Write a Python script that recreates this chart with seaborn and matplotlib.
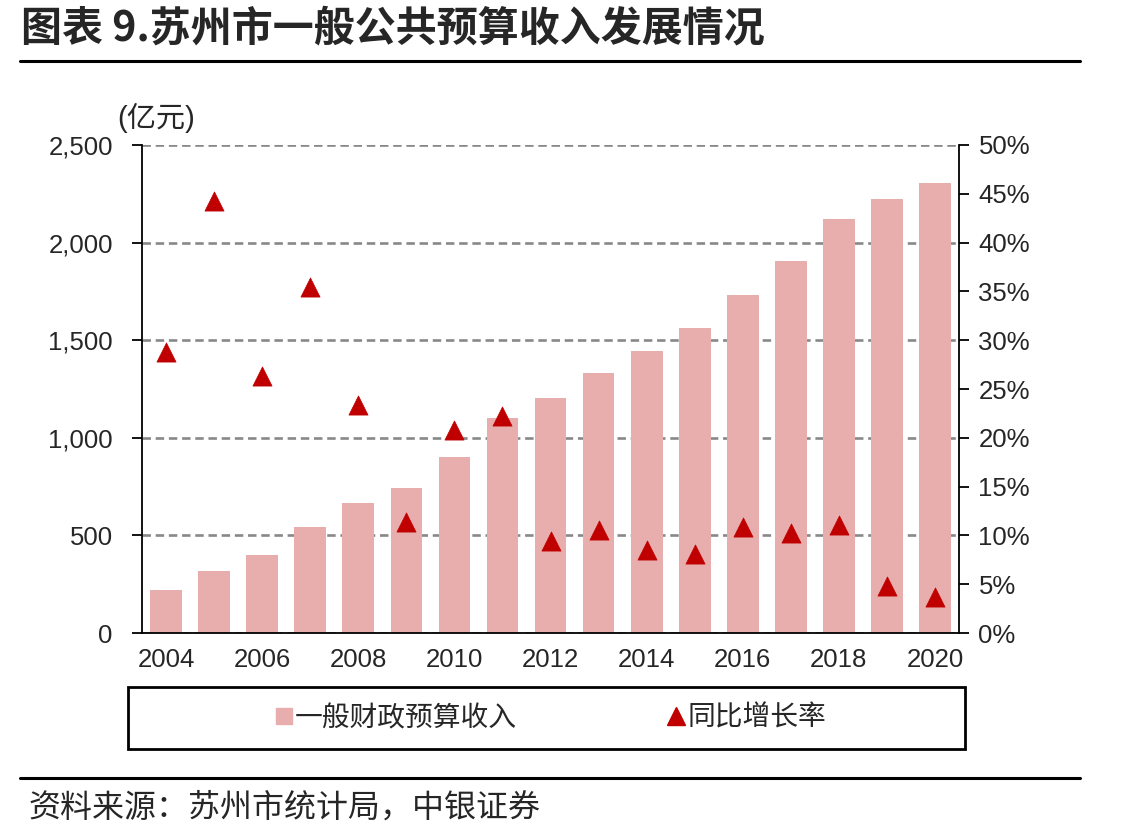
import matplotlib
matplotlib.use("Agg")
import matplotlib.pyplot as plt
from matplotlib.lines import Line2D
from matplotlib.patches import Rectangle
from matplotlib.ticker import FixedLocator, FuncFormatter
import numpy as np
import pandas as pd
import seaborn as sns

years = [str(y) for y in range(2004, 2021)]
revenue = [220, 317, 400, 543, 666, 744, 901, 1102, 1206, 1332,
           1446, 1560, 1732, 1907, 2121, 2223, 2304]  # 亿元
growth = [28.8, 44.3, 26.3, 35.4, 23.4, 11.4, 20.8, 22.2, 9.4, 10.6,
          8.5, 8.1, 10.9, 10.2, 11.1, 4.8, 3.7]  # %
year_labels = ["2004", "2006", "2008", "2010", "2012", "2014", "2016", "2018", "2020"]

bar_name = "一般财政预算收入"
growth_name = "同比增长率"
bar_color = "#E8ADAD"
tri_color = "#C00000"

df = pd.DataFrame({"year": years, "revenue": revenue, "growth": growth})

sns.set_theme(style="white")
plt.rcParams["font.family"] = ["Liberation Sans", "Noto Sans CJK SC"]

fig = plt.figure(figsize=(11.3, 8.39), dpi=100)
ax = fig.add_axes([0.1257, 0.2455, 0.7230, 0.5817])

sns.barplot(data=df, x="year", y="revenue", color=bar_color, saturation=1,
            width=0.66, linewidth=0, ax=ax, zorder=2)
ax.set_xlim(-0.5, len(years) - 0.5)
ax.set_ylim(0, 2500)
ax.set_yticks(np.arange(0, 2501, 500))
ax.yaxis.set_major_formatter(FuncFormatter(lambda v, p: f"{int(v):,}"))
ax.set_axisbelow(True)
ax.yaxis.grid(True, color="#888888", linestyle=(0, (3.2, 1.8)), linewidth=1.9, zorder=0)
ax.set_xlabel("")
ax.set_ylabel("")

# ticks between categories, labels every other year at the bar centres
ax.xaxis.set_major_locator(FixedLocator(np.arange(-0.5, len(years), 1.0)))
ax.xaxis.set_major_formatter(FuncFormatter(lambda v, p: ""))
label_pos = [years.index(y) for y in year_labels]
ax.xaxis.set_minor_locator(FixedLocator(label_pos))
ax.xaxis.set_minor_formatter(FuncFormatter(lambda v, p: years[int(round(v))]))
ax.tick_params(axis="x", which="major", direction="out", length=7, width=1.3, color="black")
ax.tick_params(axis="x", which="minor", length=0, labelsize=18.5, pad=11)
ax.tick_params(axis="y", direction="out", length=7, width=1.3, color="black",
               labelsize=18.5, left=True, pad=14)

ax2 = ax.twinx()
sns.scatterplot(data=df, x="year", y="growth", marker="^", s=190, color=tri_color,
                edgecolor=tri_color, linewidth=0.5, ax=ax2, zorder=5, legend=False)
ax2.set_ylim(0, 50)
ax2.set_yticks(np.arange(0, 51, 5))
ax2.yaxis.set_major_formatter(FuncFormatter(lambda v, p: f"{int(v)}%"))
ax2.tick_params(axis="y", direction="out", length=7, width=1.3, color="black",
                labelsize=18.5, right=True, pad=7)
ax2.set_ylabel("")
ax2.set_xlim(-0.5, len(years) - 0.5)

for a in (ax, ax2):
    a.spines["top"].set_visible(False)
    for s in ("left", "right", "bottom"):
        a.spines[s].set_color("black")
        a.spines[s].set_linewidth(1.3)
ax.spines["right"].set_visible(False)
ax2.spines["left"].set_visible(False)
ax2.spines["bottom"].set_visible(False)

fig.text(0.104, 0.859, "(亿元)", fontsize=21, ha="left", va="center")

# title, rules and source
fig.text(0.019, 0.966, "图表 9.苏州市一般公共预算收入发展情况", fontsize=29.5,
         fontweight="bold", family=["Noto Sans CJK SC"], ha="left", va="center")
fig.add_artist(Line2D([0.018, 0.956], [0.927, 0.927], color="black", lw=2.2))
fig.add_artist(Line2D([0.018, 0.956], [0.0727, 0.0727], color="black", lw=2.2))
fig.text(0.025, 0.037, "资料来源：苏州市统计局，中银证券", fontsize=23,
         family=["Noto Sans CJK SC"], ha="left", va="center", style="italic")

# legend box
fig.add_artist(Rectangle((0.1133, 1 - 749 / 839), (965 - 128) / 1130, 62 / 839,
                         transform=fig.transFigure, fill=False, edgecolor="black", lw=2))
handles = [
    Line2D([], [], marker="s", linestyle="none", markersize=11,
           markerfacecolor=bar_color, markeredgecolor=bar_color),
    Line2D([], [], marker="^", linestyle="none", markersize=13,
           markerfacecolor=tri_color, markeredgecolor=tri_color),
]
fig.legend(handles, [bar_name, growth_name], loc="center", ncol=2,
           bbox_to_anchor=(0.488, 1 - 718 / 839), frameon=False,
           prop={"family": ["Noto Sans CJK SC"], "size": 20},
           handlelength=0.5, handletextpad=0.15, columnspacing=5.5)

fig.savefig("out.png", dpi=100)
